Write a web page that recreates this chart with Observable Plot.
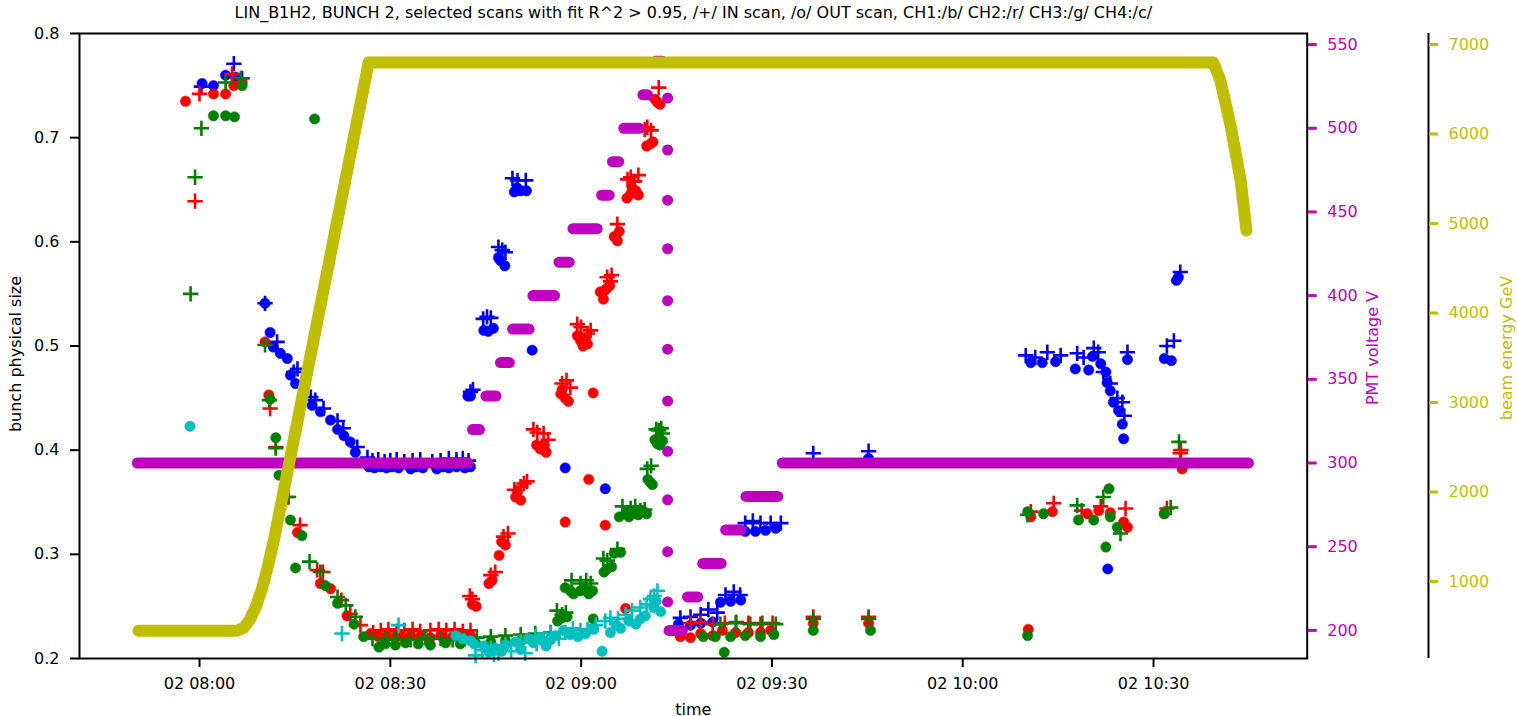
<!DOCTYPE html>
<html><head><meta charset="utf-8">
<script src="https://cdn.jsdelivr.net/npm/d3@7"></script>
<script src="https://cdn.jsdelivr.net/npm/@observablehq/plot@0.6"></script>
<style>
body{margin:0;background:#fff;}
#chart{position:relative;width:1517px;height:716px;}
#chart svg{position:absolute;left:0;top:0;}
</style></head><body><div id="chart"></div>
<script>
// time values are minutes after 02 08:00; sizes in bunch physical size units
const titleText = "LIN_B1H2, BUNCH 2, selected scans with fit R^2 > 0.95, /+/ IN scan, /o/ OUT scan, CH1:/b/ CH2:/r/ CH3:/g/ CH4:/c/";
const xTicks = [0, 30, 60, 90, 120, 150];
const yTicks = [0.2, 0.3, 0.4, 0.5, 0.6, 0.7, 0.8];
const pmtTicks = [200, 250, 300, 350, 400, 450, 500, 550];
const energyTicks = [1000, 2000, 3000, 4000, 5000, 6000, 7000];

const blueIn = [[0.3,0.749],[5.4,0.771],[6.7,0.757],[10.3,0.541],[12.2,0.504],[14.8,0.475],[15.4,0.478],[17.5,0.451],[18.2,0.448],[19.5,0.44],[21.7,0.428],[22.6,0.421],[24.8,0.403],[26.4,0.393],
[27.2,0.39],[28.1,0.391],[29.1,0.389],[30.0,0.39],[31.0,0.391],[32.2,0.389],[33.5,0.39],[34.7,0.391],[36.6,0.389],[37.9,0.39],[39.2,0.392],[40.4,0.391],[41.4,0.392],[42.3,0.39],
[42.6,0.456],[43.0,0.458],[44.6,0.526],[45.2,0.528],[45.8,0.527],[47.0,0.595],[47.6,0.592],[48.1,0.59],[49.2,0.661],[50.0,0.659],[51.3,0.659],
[75.6,0.239],[77.2,0.24],[78.8,0.242],[80.0,0.247],[81.4,0.244],[82.7,0.261],[84.0,0.264],[85.0,0.261],
[85.8,0.33],[87.0,0.332],[88.2,0.33],[89.8,0.33],[91.4,0.33],
[96.5,0.397],[105.2,0.399],
[129.9,0.491],[131.4,0.489],[133.3,0.494],[135.4,0.491],[138.0,0.493],[139.0,0.489],[140.6,0.498],[141.3,0.494],[142.1,0.475],[143.2,0.464],[144.3,0.45],[145.1,0.446],[145.4,0.433],[145.9,0.494],
[152.1,0.5],[153.2,0.505],[154.2,0.571]];
const blueOut = [[0.4,0.752],[2.2,0.75],[4.1,0.76],[5.7,0.758],[10.3,0.541],[11.1,0.513],[11.6,0.499],[12.7,0.493],[13.8,0.488],[14.3,0.472],[15.1,0.464],[17.7,0.443],[19.0,0.437],[20.6,0.429],[21.7,0.42],[22.7,0.414],[23.7,0.408],[24.5,0.398],
[26.6,0.384],[27.5,0.383],[28.5,0.384],[29.4,0.383],[30.3,0.384],[31.3,0.383],[33.2,0.382],[34.1,0.384],[35.1,0.383],[37.3,0.382],[38.2,0.384],[39.2,0.383],[40.4,0.384],[41.7,0.383],[42.6,0.384],
[42.2,0.452],[42.6,0.452],[44.7,0.515],[45.4,0.514],[46.2,0.517],[47.0,0.585],[47.3,0.582],[48.0,0.577],[49.5,0.648],[49.9,0.652],[50.5,0.649],[51.4,0.649],[52.3,0.496],[57.5,0.383],[63.8,0.363],
[75.3,0.233],[77.2,0.232],[78.8,0.234],[80.7,0.235],[81.9,0.254],[83.5,0.255],[85.1,0.256],
[85.8,0.322],[87.4,0.322],[89.0,0.323],[90.6,0.325],
[105.2,0.392],
[130.7,0.484],[132.5,0.484],[134.6,0.485],[137.7,0.478],[139.8,0.477],[140.4,0.49],[141.7,0.483],[142.5,0.475],[142.7,0.465],[143.2,0.457],[143.7,0.446],[144.5,0.438],[145.1,0.425],[145.3,0.411],[145.9,0.487],[142.8,0.286],
[151.7,0.488],[152.8,0.486],[153.6,0.563],[153.9,0.566]];
const redIn = [[-0.7,0.639],[0.0,0.742],[5.1,0.761],[11.1,0.44],[12.0,0.403],[14.0,0.355],[15.8,0.328],[18.5,0.285],[19.4,0.283],[22.3,0.256],[23.7,0.243],[25.3,0.232],[27.3,0.225],
[28.5,0.227],[29.7,0.228],[31.0,0.226],[32.2,0.227],[33.5,0.228],[34.7,0.226],[36.3,0.227],[37.6,0.228],[38.8,0.227],[40.1,0.228],[41.4,0.226],[42.6,0.227],
[42.5,0.26],[42.9,0.257],[45.8,0.28],[46.5,0.283],[47.8,0.317],[48.5,0.32],[49.5,0.362],[50.5,0.365],[51.0,0.368],[51.5,0.37],[52.5,0.42],[53.1,0.417],[54.1,0.416],[54.8,0.41],[57.0,0.464],[57.7,0.467],[58.3,0.46],
[59.4,0.521],[60.0,0.518],[61.0,0.512],[61.5,0.515],[64.1,0.566],[64.6,0.562],[64.8,0.568],[65.7,0.617],[67.3,0.66],[67.8,0.662],[68.4,0.658],[69.0,0.664],[70.0,0.708],[70.4,0.71],[71.0,0.707],[72.2,0.748],
[77.2,0.234],[78.8,0.235],[80.7,0.233],[82.6,0.234],[84.4,0.235],[86.3,0.234],[88.2,0.233],[90.1,0.234],
[96.5,0.24],[105.2,0.24],
[130.7,0.341],[134.3,0.349],[138.7,0.342],[141.7,0.346],[145.6,0.344],[152.1,0.344],[154.2,0.397],[154.3,0.4]];
const redOut = [[-2.2,0.735],[2.2,0.742],[4.1,0.742],[5.4,0.75],[6.7,0.753],[10.3,0.504],[10.9,0.453],[15.4,0.321],[19.0,0.272],[20.6,0.267],[23.2,0.241],[26.9,0.224],
[28.1,0.221],[29.4,0.222],[30.7,0.22],[31.9,0.221],[33.2,0.222],[34.7,0.221],[36.3,0.22],[37.9,0.222],[39.8,0.221],[41.4,0.22],[42.6,0.222],
[42.9,0.252],[43.5,0.25],[45.5,0.272],[46.0,0.275],[47.1,0.299],[47.5,0.312],[48.1,0.309],[49.7,0.355],[50.0,0.36],[50.5,0.352],[53.0,0.405],[53.6,0.401],[54.2,0.405],[54.5,0.398],[56.8,0.454],[57.0,0.458],[57.5,0.45],[58.0,0.447],[57.5,0.331],
[59.4,0.51],[59.9,0.505],[60.3,0.5],[60.7,0.507],[61.0,0.502],[61.2,0.372],[61.9,0.455],[63.0,0.552],[63.5,0.545],[63.6,0.553],[64.0,0.555],[64.5,0.558],[63.8,0.328],[65.2,0.605],[65.7,0.601],[66.0,0.61],[67.0,0.248],
[67.2,0.642],[67.8,0.646],[68.0,0.652],[68.6,0.649],[69.0,0.645],[70.3,0.692],[70.9,0.694],[71.3,0.696],[71.6,0.737],[72.0,0.734],[72.4,0.732],
[75.6,0.221],[77.2,0.22],[78.8,0.224],[80.7,0.222],[82.2,0.227],[84.3,0.225],[86.3,0.225],[88.2,0.225],[89.8,0.227],
[96.5,0.234],[105.2,0.234],
[130.3,0.228],[130.7,0.336],[134.1,0.341],[139.6,0.339],[141.4,0.342],[143.2,0.34],[145.3,0.331],[145.9,0.326],[151.7,0.339],[154.5,0.382]];
const greenIn = [[-1.4,0.55],[-0.7,0.662],[0.3,0.709],[4.1,0.753],[6.5,0.757],[10.3,0.501],[11.0,0.448],[12.0,0.402],[13.8,0.355],[17.3,0.293],[19.0,0.283],[21.7,0.259],[23.0,0.251],[24.5,0.24],
[27.2,0.219],[29.2,0.218],[30.8,0.219],[33.2,0.218],[35.5,0.22],[37.9,0.219],[39.8,0.218],[41.7,0.219],[43.6,0.22],[45.8,0.221],[48.1,0.222],[50.5,0.223],[52.8,0.224],[55.2,0.225],
[56.2,0.246],[57.0,0.242],[57.6,0.244],[58.5,0.275],[59.9,0.272],[60.8,0.275],[61.5,0.272],[63.5,0.296],[64.1,0.294],[65.7,0.305],[66.5,0.346],[67.8,0.344],[68.5,0.346],[69.3,0.342],[70.0,0.343],
[70.4,0.382],[71.0,0.385],[71.8,0.42],[72.2,0.419],[72.6,0.421],[72.8,0.416],
[81.9,0.233],[84.3,0.234],[86.6,0.233],[88.5,0.234],[90.6,0.233],[96.5,0.238],[105.2,0.238],
[130.2,0.338],[138.0,0.347],[142.1,0.355],[144.8,0.32],[152.7,0.345],[154.0,0.408]];
const greenOut = [[2.2,0.721],[4.1,0.721],[5.5,0.72],[6.7,0.75],[18.1,0.718],[11.1,0.449],[12.0,0.412],[12.5,0.376],[14.3,0.333],[15.1,0.287],[16.1,0.318],[19.8,0.27],[21.7,0.253],[24.3,0.233],[25.8,0.221],[28.2,0.211],
[29.2,0.214],[30.8,0.213],[32.4,0.215],[34.4,0.214],[36.3,0.213],[38.7,0.215],[41.0,0.214],[43.4,0.215],[45.8,0.216],[48.1,0.217],[50.5,0.217],[52.8,0.218],[55.2,0.219],
[56.3,0.236],[57.0,0.239],[57.8,0.24],[57.5,0.268],[58.3,0.265],[58.8,0.262],[59.9,0.265],[60.5,0.268],[61.2,0.262],[61.8,0.265],[61.9,0.238],[63.6,0.283],[64.1,0.286],[64.8,0.288],[65.2,0.301],[66.2,0.302],
[66.0,0.336],[67.0,0.339],[67.5,0.336],[68.6,0.339],[69.0,0.338],[69.7,0.342],[70.3,0.339],[70.5,0.372],[70.9,0.369],[71.2,0.367],[71.6,0.41],[72.0,0.406],[72.4,0.405],[72.8,0.409],
[79.2,0.221],[81.1,0.221],[82.5,0.206],[83.5,0.221],[85.8,0.222],[88.2,0.221],[90.3,0.223],
[96.5,0.227],[105.5,0.227],
[130.2,0.222],[130.2,0.341],[132.7,0.339],[138.2,0.333],[140.6,0.333],[142.5,0.307],[143.0,0.363],[143.2,0.336],[144.3,0.326],[151.7,0.339],[154.5,0.387]];
const cyanIn = [[22.4,0.224],[31.3,0.232],[43.4,0.203],[44.5,0.208],[45.8,0.21],[46.3,0.204],[47.0,0.205],[48.1,0.213],[49.0,0.207],[50.5,0.216],[51.2,0.205],[52.8,0.221],[53.0,0.214],[54.0,0.218],[55.2,0.224],[56.5,0.219],[57.5,0.225],
[58.7,0.229],[59.9,0.227],[61.0,0.228],[62.3,0.232],[63.8,0.236],[64.6,0.239],[65.8,0.238],[67.0,0.242],[68.0,0.246],[69.3,0.249],[70.3,0.252],[70.9,0.257],[71.5,0.26],[72.0,0.265]];
const cyanOut = [[-1.5,0.423],[40.3,0.222],[41.4,0.219],[42.6,0.217],[43.2,0.214],[44.7,0.212],[45.5,0.206],[46.5,0.21],[47.5,0.207],[48.1,0.213],[49.7,0.216],[50.5,0.209],[51.7,0.219],[52.5,0.215],[53.6,0.22],[54.5,0.212],[55.2,0.218],[56.0,0.222],
[57.2,0.227],[58.3,0.223],[59.5,0.221],[60.7,0.224],[62.0,0.228],[63.3,0.207],[64.6,0.225],[65.5,0.232],[66.2,0.229],[67.5,0.236],[68.6,0.233],[69.3,0.238],[70.1,0.241],[71.4,0.249],[71.8,0.255],[72.5,0.245]];

// PMT voltage levels: [start min, end min, volts]
const pmtLevels = [[-9.7,42.3,300],[43.0,44.1,320],[45.1,46.7,340],[47.4,48.8,360],[49.3,51.9,380],[52.5,55.9,400],[56.6,58.2,420],[58.8,62.6,440],[63.3,64.5,460],[65.0,66.0,480],[66.8,69.2,500],[69.8,70.5,520],[71.8,72.8,540],
[73.9,76.0,200],[76.8,78.4,220],[79.2,82.1,240],[82.8,85.2,260],[86.0,91.0,280],[91.7,165.0,300]];
const pmtScan = [[73.6,518],[73.6,487],[73.6,457],[73.6,428],[73.6,397],[73.6,368],[73.6,337],[73.6,307],[73.6,278],[73.6,247],[73.6,217]];
// beam energy GeV
const energy = [[-9.6,450],[5.9,450],[6.9,480],[7.9,572],[8.9,725],[9.9,938],[10.9,1213],[11.8,1499],[26.6,6800],[159.4,6800],[160.5,6600],[162.1,6100],[163.7,5480],[164.6,4922]];

const base = Date.UTC(2022, 6, 2, 8, 0, 0);
const toDate = m => new Date(base + m * 60000);
const channels = [
  {color: "#0000ff", inn: blueIn, out: blueOut},
  {color: "#ff0000", inn: redIn, out: redOut},
  {color: "#008000", inn: greenIn, out: greenOut},
  {color: "#00bfbf", inn: cyanIn, out: cyanOut}
];
const MAG = "#bf00bf", OLV = "#bfbf00";
const W = 1517, H = 716;
const xEnd = 174.16;
const FS = 16;
const common = {
  width: W, height: H, marginLeft: 79, marginRight: 210.3, marginTop: 33, marginBottom: 58,
  x: {type: "utc", domain: [toDate(-18.87), toDate(xEnd)], axis: null},
  style: {fontFamily: "DejaVu Sans", fontSize: FS + "px", background: "transparent", overflow: "visible"}
};
const X = d => toDate(d[0]), Y = d => d[1];

const scatterMarks = [];
for (const c of channels) {
  scatterMarks.push(Plot.dot(c.out, {x: X, y: Y, r: 5.2, fill: c.color, stroke: c.color, strokeWidth: 0.5}));
  scatterMarks.push(Plot.dot(c.inn, {x: X, y: Y, symbol: "plus", r: 5, stroke: c.color, strokeWidth: 2.6}));
}

const p1 = Plot.plot({
  ...common,
  style: {...common.style, background: "white"},
  y: {domain: [0.2, 0.8], axis: null},
  marks: [
    ...scatterMarks,
    Plot.axisX({ticks: xTicks.map(toDate), tickFormat: d3.utcFormat("%d %H:%M"), tickSize: 9, tickPadding: 10, strokeWidth: 2, fontSize: FS, label: null}),
    Plot.axisY({ticks: yTicks, tickFormat: d3.format(".1f"), tickSize: 9, tickPadding: 11, strokeWidth: 2, fontSize: FS, label: null}),
    Plot.frame({stroke: "black", strokeWidth: 2}),
    Plot.text([titleText], {frameAnchor: "top", lineAnchor: "middle", textAnchor: "middle", dy: -21, fontSize: FS}),
    Plot.text(["time"], {frameAnchor: "bottom", lineAnchor: "middle", textAnchor: "middle", dy: 51, fontSize: FS}),
    Plot.text(["bunch physical size"], {frameAnchor: "left", lineAnchor: "middle", textAnchor: "middle", dx: -64, dy: 8, rotate: -90, fontSize: FS})
  ]
});

const p2 = Plot.plot({
  ...common,
  y: {domain: [183.2, 556.6], axis: null},
  marks: [
    Plot.ruleY(pmtLevels, {y: d => d[2], x1: d => toDate(d[0]), x2: d => toDate(d[1]), stroke: MAG, strokeWidth: 11, strokeLinecap: "round"}),
    Plot.dot(pmtScan, {x: X, y: Y, r: 5.5, fill: MAG}),
    Plot.axisY({anchor: "right", ticks: pmtTicks, tickFormat: d3.format("d"), tickSize: 9, tickPadding: 11, strokeWidth: 3, color: MAG, fontSize: FS, label: null}),
    Plot.text(["PMT voltage V"], {frameAnchor: "right", lineAnchor: "middle", textAnchor: "middle", dx: 66, dy: 2, rotate: -90, fill: MAG, fontSize: FS})
  ]
});

const p3 = Plot.plot({
  ...common,
  y: {domain: [139.8, 7122.9], axis: null},
  marks: [
    Plot.line(energy, {x: X, y: Y, stroke: OLV, strokeWidth: 12, strokeLinecap: "round", strokeLinejoin: "round"}),
    Plot.ruleX([toDate(xEnd)], {dx: 121.3, stroke: "black", strokeWidth: 2}),
    Plot.axisY({anchor: "right", dx: 121.3, ticks: energyTicks, tickFormat: d3.format("d"), tickSize: 9, tickPadding: 11, strokeWidth: 3, color: OLV, fontSize: FS, label: null}),
    Plot.text(["beam energy GeV"], {frameAnchor: "right", lineAnchor: "middle", textAnchor: "middle", dx: 200, dy: 2, rotate: -90, fill: OLV, fontSize: FS})
  ]
});

const el = document.getElementById("chart");
el.append(p1, p2, p3);
</script></body></html>
